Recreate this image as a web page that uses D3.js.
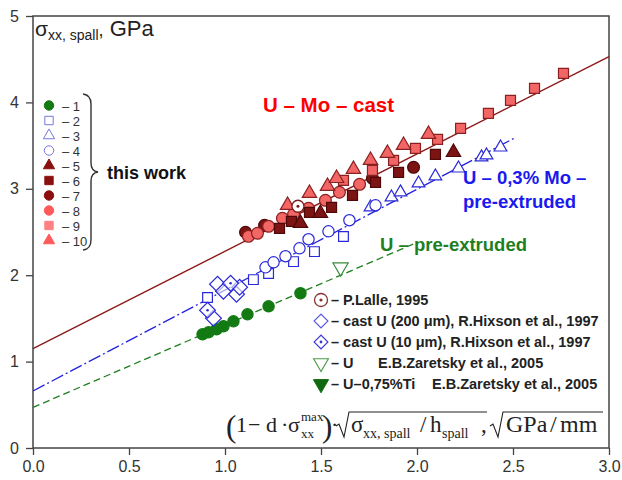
<!DOCTYPE html>
<html>
<head>
<meta charset="utf-8">
<script src="https://cdn.jsdelivr.net/npm/d3@7"></script>
<style>
  body { margin: 0; background: #fff; }
  text { font-family: "Liberation Sans", Arial, sans-serif; }
  .serif { font-family: "Liberation Serif", "Times New Roman", serif; fill: #222; }
</style>
</head>
<body>
<div id="chart"></div>
<script>
// ---- data ----
const xTicks = [0, 0.5, 1, 1.5, 2, 2.5, 3];
const yTicks = [0, 1, 2, 3, 4, 5];

const s1 = [[0.883,1.316],[0.914,1.339],[0.956,1.374],[0.992,1.409],[1.044,1.466],[1.117,1.547],[1.227,1.640],[1.393,1.791]];
const s2 = [[0.909,1.741],[1.148,1.949],[1.227,2.019],[1.357,2.157],[1.466,2.273],[1.617,2.447]];
const s3 = [[1.758,2.786],[1.867,2.902],[1.914,2.960],[2.008,3.064],[2.096,3.145],[2.216,3.237],[2.336,3.365],[2.362,3.388],[2.435,3.480]];
const s4 = [[1.211,2.091],[1.253,2.149],[1.315,2.219],[1.388,2.311],[1.435,2.416],[1.539,2.508],[1.648,2.636],[1.784,2.809]];
const s5 = [[1.393,2.601],[1.497,2.717],[2.190,3.422]];
const s6 = [[1.284,2.543],[1.346,2.624],[1.440,2.728],[1.555,2.786],[1.664,2.925],[1.784,3.075],[1.904,3.191],[2.096,3.399]];
const s7 = [[1.107,2.497],[1.206,2.578],[1.768,3.121],[1.982,3.249]];
const s8 = [[1.122,2.450],[1.169,2.485],[1.227,2.566],[1.299,2.659],[1.357,2.705],[1.435,2.775],[1.523,2.867],[1.596,2.960],[1.701,3.052]];
const s9 = [[1.617,3.098],[1.768,3.214],[1.878,3.330],[1.992,3.469],[2.107,3.573],[2.227,3.700],[2.372,3.874],[2.487,4.024],[2.612,4.163],[2.763,4.337]];
const s10 = [[1.326,2.809],[1.440,2.948],[1.534,3.029],[1.581,3.121],[1.669,3.226],[1.758,3.330],[1.846,3.411],[1.930,3.504],[2.060,3.631]];
const lalle = [[1.380,2.798]];
const hixson200 = [[0.961,1.895],[0.992,1.814],[1.060,1.779],[1.076,1.860],[0.940,1.501]];
const hixson10 = [[1.029,1.906],[0.909,1.594]];
const zaretskyU = [[1.602,2.091]];

// fitted lines (end points)
const lineUMo = [[0,1.15],[3,4.53]];
const lineUMoExt = [[0,0.66],[2.51,3.59]];
const lineUExt = [[0,0.47],[1.98,2.36]];

const legendLabels = ["1","2","3","4","5","6","7","8","9","10"];
const litLabels = ["– P.Lalle, 1995", "– cast U (200 μm), R.Hixson et al., 1997", "– cast U (10 μm), R.Hixson et al., 1997"];

// ---- canvas ----
const W = 622, H = 480;
const margin = { top: 16, right: 13, bottom: 32, left: 33 };
const width = W - margin.left - margin.right;
const height = H - margin.top - margin.bottom;

const svg = d3.select("#chart").append("svg")
    .attr("width", W).attr("height", H);

const g = svg.append("g")
    .attr("transform", `translate(${margin.left},${margin.top})`);

const x = d3.scaleLinear().domain([0, 3]).range([0, width]);
const y = d3.scaleLinear().domain([0, 5]).range([height, 0]);

// axes
const xAxis = g.append("g")
    .attr("transform", `translate(0,${height})`)
    .call(d3.axisBottom(x).tickValues(xTicks).tickFormat(d3.format(".1f")).tickSize(7).tickPadding(6));
const yAxis = g.append("g")
    .call(d3.axisLeft(y).tickValues(yTicks).tickFormat(d3.format("d")).tickSize(7).tickPadding(7));
[xAxis, yAxis].forEach(a => {
    a.select(".domain").remove();
    a.selectAll("line").attr("stroke", "#444").attr("stroke-width", 1.3);
    a.selectAll("text").attr("fill", "#333").style("font-size", "16px");
});

g.append("rect")
    .attr("width", width).attr("height", height)
    .attr("fill", "none").attr("stroke", "#444").attr("stroke-width", 1.5);

// lines
const line = d3.line().x(d => x(d[0])).y(d => y(d[1]));
g.append("path").attr("d", line(lineUMo))
    .attr("stroke", "#8b1a1a").attr("stroke-width", 1.4).attr("fill", "none");
g.append("path").attr("d", line(lineUMoExt))
    .attr("stroke", "#2222dd").attr("stroke-width", 1.3).attr("fill", "none")
    .attr("stroke-dasharray", "13,3,2,3");
g.append("path").attr("d", line(lineUExt))
    .attr("stroke", "#1f7f1f").attr("stroke-width", 1.3).attr("fill", "none")
    .attr("stroke-dasharray", "7,4");

// marker styles
const BLUE = "#2a2ad8", GREEN = "#137a13", DARK = "#7d1414", DARKS = "#4f0808", LIGHT = "#f26666", LIGHTS = "#8b2020";
const shapes = {
    circle: d3.symbolCircle, square: d3.symbolSquare, triangle: d3.symbolTriangle
};
const series = [
    { data: s1, shape: "circle", size: 100, fill: GREEN, stroke: GREEN },
    { data: s2, shape: "square", size: 95, fill: "#fff", stroke: BLUE },
    { data: s3, shape: "triangle", size: 70, fill: "#fff", stroke: BLUE },
    { data: s4, shape: "circle", size: 100, fill: "#fff", stroke: BLUE },
    { data: s7, shape: "circle", size: 110, fill: DARK, stroke: DARKS },
    { data: s8, shape: "circle", size: 110, fill: LIGHT, stroke: LIGHTS },
    { data: s6, shape: "square", size: 100, fill: DARK, stroke: DARKS },
    { data: s5, shape: "triangle", size: 90, fill: DARK, stroke: DARKS },
    { data: s9, shape: "square", size: 100, fill: LIGHT, stroke: LIGHTS },
    { data: s10, shape: "triangle", size: 90, fill: LIGHT, stroke: LIGHTS }
];

series.forEach(s => {
    g.append("g").selectAll("path")
        .data(s.data)
        .enter().append("path")
        .attr("transform", d => `translate(${x(d[0])},${y(d[1])})`)
        .attr("d", d3.symbol().type(shapes[s.shape]).size(s.size))
        .attr("fill", s.fill).attr("stroke", s.stroke).attr("stroke-width", 1.2);
});

// literature data
const diamond = d3.symbol().type(d3.symbolSquare).size(125);
g.append("g").selectAll("path").data(hixson200).enter().append("path")
    .attr("transform", d => `translate(${x(d[0])},${y(d[1])}) rotate(45)`)
    .attr("d", diamond).attr("fill", "#fff").attr("fill-opacity", 0.6)
    .attr("stroke", BLUE).attr("stroke-width", 1.2);
const h10 = g.append("g").selectAll("g").data(hixson10).enter().append("g")
    .attr("transform", d => `translate(${x(d[0])},${y(d[1])})`);
h10.append("path").attr("transform", "rotate(45)").attr("d", diamond)
    .attr("fill", "#fff").attr("fill-opacity", 0.6).attr("stroke", BLUE).attr("stroke-width", 1.2);
h10.append("circle").attr("r", 1.3).attr("fill", BLUE);

const la = g.append("g").selectAll("g").data(lalle).enter().append("g")
    .attr("transform", d => `translate(${x(d[0])},${y(d[1])})`);
la.append("circle").attr("r", 6).attr("fill", "#fff").attr("stroke", "#7d1a1a").attr("stroke-width", 1.3);
la.append("circle").attr("r", 1.5).attr("fill", "#7d1a1a");

g.append("g").selectAll("path").data(zaretskyU).enter().append("path")
    .attr("transform", d => `translate(${x(d[0])},${y(d[1])}) rotate(180)`)
    .attr("d", d3.symbol().type(d3.symbolTriangle).size(100))
    .attr("fill", "#fff").attr("stroke", "#3a8a3a").attr("stroke-width", 1.2);

// ---- y title ----
const yt = svg.append("text").attr("x", 35).attr("y", 36).attr("fill", "#222");
yt.append("tspan").text("σ").style("font-size", "21px");
yt.append("tspan").text("xx, spall").style("font-size", "14px").attr("dy", 4);
yt.append("tspan").text(",").style("font-size", "18px").attr("dy", -4);
yt.append("tspan").text(" GPa").style("font-size", "22px");

// ---- "this work" legend ----
const legStyles = [
    { shape: "circle", fill: GREEN, stroke: GREEN },
    { shape: "square", fill: "#fff", stroke: "#7777dd" },
    { shape: "triangle", fill: "#fff", stroke: "#7777dd" },
    { shape: "circle", fill: "#fff", stroke: "#7777dd" },
    { shape: "triangle", fill: "#8b0f0f", stroke: "#8b0f0f" },
    { shape: "square", fill: "#8b0f0f", stroke: "#8b0f0f" },
    { shape: "circle", fill: "#8b0f0f", stroke: "#8b0f0f" },
    { shape: "circle", fill: "#ff5a5a", stroke: "#ff5a5a" },
    { shape: "square", fill: "#ff8080", stroke: "#ff8080" },
    { shape: "triangle", fill: "#ff5a5a", stroke: "#ff5a5a" }
];
const leg = svg.append("g").selectAll("g").data(legendLabels).enter().append("g")
    .attr("transform", (d, i) => `translate(49,${105.5 + i * 15})`);
leg.append("path")
    .attr("d", (d, i) => d3.symbol().type(shapes[legStyles[i].shape]).size(legStyles[i].shape === "triangle" ? 55 : 70)())
    .attr("fill", (d, i) => legStyles[i].fill)
    .attr("stroke", (d, i) => legStyles[i].stroke).attr("stroke-width", 1);
leg.append("text").attr("x", 13).attr("y", 5)
    .text(d => "– " + d).attr("fill", "#333").style("font-size", "13px");

svg.append("path")
    .attr("d", "M83,94 Q91,95 91,104 L91,163 Q91,171 98,172 Q91,173 91,181 L91,240 Q91,249 83,250")
    .attr("fill", "none").attr("stroke", "#333").attr("stroke-width", 1.4);
svg.append("text").attr("x", 107).attr("y", 179).text("this work")
    .attr("fill", "#111").style("font-size", "18px").style("font-weight", "bold");

// ---- group labels ----
svg.append("text").attr("x", 263).attr("y", 112).text("U – Mo – cast")
    .attr("fill", "#ff0000").style("font-size", "20.5px").style("font-weight", "bold");
svg.append("text").attr("x", 463).attr("y", 184).text("U – 0,3% Mo –")
    .attr("fill", "#1a1aee").style("font-size", "18.5px").style("font-weight", "bold");
svg.append("text").attr("x", 463).attr("y", 208).text("pre-extruded")
    .attr("fill", "#1a1aee").style("font-size", "18.5px").style("font-weight", "bold");
svg.append("text").attr("x", 380).attr("y", 251).text("U – pre-extruded")
    .attr("fill", "#1f7f1f").style("font-size", "18.5px").style("font-weight", "bold");

// ---- literature legend ----
const litY = [300, 321, 342, 363, 384];
const LFS = "14.5px";
const lit = svg.append("g");
const lg0 = lit.append("g").attr("transform", `translate(321,${litY[0]})`);
lg0.append("circle").attr("r", 6.5).attr("fill", "#fff").attr("stroke", "#8b3030").attr("stroke-width", 1.3);
lg0.append("circle").attr("r", 1.6).attr("fill", "#8b3030");
lit.append("path").attr("transform", `translate(321,${litY[1]}) rotate(45)`)
    .attr("d", d3.symbol().type(d3.symbolSquare).size(95)).attr("fill", "#fff")
    .attr("stroke", "#5a5ae0").attr("stroke-width", 1.2);
const lg2 = lit.append("g").attr("transform", `translate(321,${litY[2]})`);
lg2.append("path").attr("transform", "rotate(45)")
    .attr("d", d3.symbol().type(d3.symbolSquare).size(95)).attr("fill", "#fff")
    .attr("stroke", "#3a3ad8").attr("stroke-width", 1.2);
lg2.append("circle").attr("r", 1.4).attr("fill", "#3a3ad8");
lit.append("path").attr("transform", `translate(321,${litY[3]}) rotate(180)`)
    .attr("d", d3.symbol().type(d3.symbolTriangle).size(95)).attr("fill", "#fff")
    .attr("stroke", "#4a9a4a").attr("stroke-width", 1.1);
lit.append("path").attr("transform", `translate(321,${litY[4]}) rotate(180)`)
    .attr("d", d3.symbol().type(d3.symbolTriangle).size(100)).attr("fill", "#0f6a0f")
    .attr("stroke", "#0f6a0f");

const litText = (xp, i, t) => lit.append("text").attr("x", xp).attr("y", litY[i] + 5).text(t)
    .attr("fill", "#222").style("font-size", LFS).style("font-weight", "bold");
litLabels.forEach((t, i) => litText(331, i, t));
litText(331, 3, "– U");
litText(378, 3, "E.B.Zaretsky et al., 2005");
litText(331, 4, "– U–0,75%Ti");
litText(432, 4, "E.B.Zaretsky et al., 2005");

// ---- x axis formula label ----
const B = 432;
const ml = svg.append("g");
function st(xp, yp, t, fs) {
    return ml.append("text").attr("class", "serif").attr("x", xp).attr("y", yp).text(t).style("font-size", fs + "px");
}
st(226, B + 5, "(", 31);
st(236, B, "1", 22);
st(248, B, "−", 22);
st(266, B, "d", 22);
st(281, B, "·", 22);
st(288, B, "σ", 22);
st(301, B - 11, "max", 13);
st(301, B + 6, "xx", 13);
st(322, B + 5, ")", 31);
st(331, B, "·", 22);
st(351, B, "σ", 23);
st(363, B + 6, "xx, spall", 14);
st(420, B, "/", 23);
st(430, B, "h", 23);
st(442, B + 6, "spall", 14);
st(481, B, ",", 23);
st(506, B, "GPa", 24);
st(550, B, "/", 24);
st(560, B, "mm", 24);
const rad = (x0, x1) => `M${x0},${B - 6} L${x0 + 3},${B - 8} L${x0 + 8},${B + 5} L${x0 + 13},${B - 20} L${x1},${B - 20}`;
ml.append("path").attr("d", rad(336, 487)).attr("fill", "none").attr("stroke", "#222").attr("stroke-width", 1.1);
ml.append("path").attr("d", rad(490, 603)).attr("fill", "none").attr("stroke", "#222").attr("stroke-width", 1.1);
</script>
</body>
</html>
